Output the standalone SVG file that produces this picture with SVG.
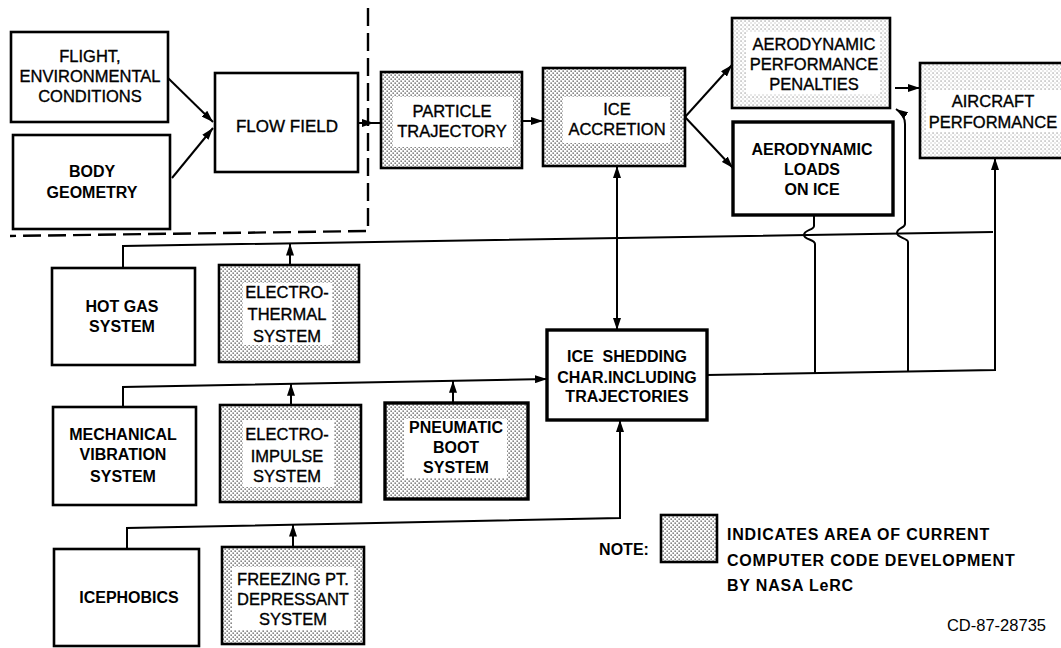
<svg xmlns="http://www.w3.org/2000/svg" width="1061" height="648" viewBox="0 0 1061 648">
<defs>
<pattern id="dots" width="4" height="4" patternUnits="userSpaceOnUse">
<rect width="4" height="4" fill="#fff"/>
<rect x="0.5" y="0.5" width="1.3" height="1.3" fill="#444"/>
<rect x="2.5" y="2.5" width="1.3" height="1.3" fill="#444"/>
</pattern>
<pattern id="dotsL" width="4" height="4" patternUnits="userSpaceOnUse">
<rect width="4" height="4" fill="#fff"/>
<rect x="0.5" y="0.5" width="1.1" height="1.1" fill="#777"/>
<rect x="2.5" y="2.5" width="1" height="1" fill="#aaa"/>
</pattern>
<marker id="arr" viewBox="0 0 12 8" refX="12" refY="4" markerWidth="12" markerHeight="8" markerUnits="userSpaceOnUse" orient="auto-start-reverse">
<path d="M0,0 L12,4 L0,8 z" fill="#000"/>
</marker>
</defs>
<style>
.box{fill:#fff;stroke:#000;stroke-width:2.6}
.thick{stroke-width:3.4}
.sh{fill:url(#dots)}
.shL{fill:url(#dotsL)}
.wb{fill:#fff;stroke:none}
text{font-family:"Liberation Sans",Arial,Helvetica,sans-serif;fill:#000;text-anchor:middle}
.m{font-size:16.5px;stroke:#000;stroke-width:0.35}
.b{font-size:16px;font-weight:bold}
.c{fill:none;stroke:#000;stroke-width:2}
.dash{fill:none;stroke:#000;stroke-width:2.4;stroke-dasharray:18 7}
</style>

<g id="connectors">
<path class="dash" d="M368 8 V231 L10 236"/>
<path class="c" d="M168 78 L213 122" marker-end="url(#arr)"/>
<path class="c" d="M172 178 L213 128" marker-end="url(#arr)"/>
<path class="c" d="M358 123 H380"/>
<path class="c" d="M358 123 H374" marker-end="url(#arr)"/>
<path class="c" d="M522 121 H543" marker-end="url(#arr)"/>
<path class="c" d="M685 117 L732 65" marker-end="url(#arr)"/>
<path class="c" d="M685 117 L733 168" marker-end="url(#arr)"/>
<path class="c" d="M895 88 H920" marker-end="url(#arr)"/>
<path class="c" d="M617 166 V330" marker-start="url(#arr)" marker-end="url(#arr)"/>
<path class="c" d="M123 268 V246 L993 232"/>
<path class="c" d="M290 265 V243.5" marker-end="url(#arr)"/>
<path class="c" d="M123 407 V387 L547 379" marker-end="url(#arr)"/>
<path class="c" d="M291 405 V383.8" marker-end="url(#arr)"/>
<path class="c" d="M453 403 V380.8" marker-end="url(#arr)"/>
<path class="c" d="M127 549 V528 L620 518 V420" marker-end="url(#arr)"/>
<path class="c" d="M293 547 V524.6" marker-end="url(#arr)"/>
<path class="c" d="M707 375 L995 370 V158" marker-end="url(#arr)"/>
<path class="c" d="M814 215 V226 C814 230 804 230 804 235 C804 240 815 239 815 244 V373"/>
<path class="c" d="M908 371.5 V242 C908 238 897 238 897 233 C897 228 905 228 905 224 V124 Q905 115 896 109" marker-end="url(#arr)"/>
</g>

<g id="flight">
<rect class="box" x="11" y="32" width="157" height="90"/>
<text class="m" x="90" y="62">FLIGHT,</text>
<text class="m" x="90" y="82">ENVIRONMENTAL</text>
<text class="m" x="90" y="102">CONDITIONS</text>
</g>
<g id="body">
<rect class="box" x="13" y="135" width="157" height="94"/>
<text class="b" x="92" y="177">BODY</text>
<text class="b" x="92" y="198">GEOMETRY</text>
</g>
<g id="flowfield">
<rect class="box" x="215" y="73" width="143" height="99"/>
<text class="m" x="287" y="132" style="font-size:17px">FLOW FIELD</text>
</g>
<g id="particle">
<rect class="box sh" x="381" y="72" width="141" height="96"/>
<rect class="wb" x="393" y="97" width="120" height="50"/>
<text class="m" x="452" y="117">PARTICLE</text>
<text class="m" x="452" y="137">TRAJECTORY</text>
</g>
<g id="accretion">
<rect class="box sh" x="543" y="68" width="142" height="98"/>
<rect class="wb" x="563" y="97" width="107" height="46"/>
<text class="m" x="617" y="115">ICE</text>
<text class="m" x="617" y="135">ACCRETION</text>
</g>
<g id="perfpen">
<rect class="box shL" x="732" y="18" width="158" height="90"/>
<rect class="wb" x="746" y="32" width="134" height="62"/>
<text class="m" x="814" y="50">AERODYNAMIC</text>
<text class="m" x="814" y="70">PERFORMANCE</text>
<text class="m" x="814" y="90">PENALTIES</text>
</g>
<g id="loads">
<rect class="box thick" x="733" y="122" width="160" height="93"/>
<text class="b" x="812" y="155">AERODYNAMIC</text>
<text class="b" x="812" y="175">LOADS</text>
<text class="b" x="812" y="195">ON ICE</text>
</g>
<g id="aircraft">
<rect class="box shL" x="920" y="63" width="150" height="95"/>
<rect class="wb" x="926" y="90" width="140" height="42"/>
<text class="m" x="993" y="107">AIRCRAFT</text>
<text class="m" x="993" y="128">PERFORMANCE</text>
</g>
<g id="hotgas">
<rect class="box" x="52" y="268" width="143" height="97"/>
<text class="b" x="122" y="312">HOT GAS</text>
<text class="b" x="122" y="332">SYSTEM</text>
</g>
<g id="electrothermal">
<rect class="box sh" x="219" y="265" width="140" height="97"/>
<rect class="wb" x="243" y="283" width="89" height="62"/>
<text class="m" x="287" y="298">ELECTRO-</text>
<text class="m" x="287" y="320">THERMAL</text>
<text class="m" x="287" y="342">SYSTEM</text>
</g>
<g id="shedding">
<rect class="box thick" x="547" y="330" width="160" height="90"/>
<text class="b" x="627" y="362" xml:space="preserve">ICE  SHEDDING</text>
<text class="b" x="627" y="383">CHAR.INCLUDING</text>
<text class="b" x="627" y="402">TRAJECTORIES</text>
</g>
<g id="mechanical">
<rect class="box" x="53" y="407" width="143" height="98"/>
<text class="b" x="123" y="440">MECHANICAL</text>
<text class="b" x="123" y="460">VIBRATION</text>
<text class="b" x="123" y="482">SYSTEM</text>
</g>
<g id="electroimpulse">
<rect class="box sh" x="220" y="405" width="141" height="97"/>
<rect class="wb" x="243" y="420" width="91" height="67"/>
<text class="m" x="287" y="440">ELECTRO-</text>
<text class="m" x="287" y="462">IMPULSE</text>
<text class="m" x="287" y="482">SYSTEM</text>
</g>
<g id="pneumatic">
<rect class="box sh thick" x="385" y="403" width="143" height="96"/>
<rect class="wb" x="404" y="419" width="103" height="59"/>
<text class="b" x="456" y="433">PNEUMATIC</text>
<text class="b" x="456" y="453">BOOT</text>
<text class="b" x="456" y="473">SYSTEM</text>
</g>
<g id="icephobics">
<rect class="box" x="54" y="549" width="145" height="97"/>
<text class="b" x="129" y="603">ICEPHOBICS</text>
</g>
<g id="freezing">
<rect class="box sh" x="222" y="547" width="142" height="97"/>
<rect class="wb" x="232" y="567" width="122" height="63"/>
<text class="m" x="293" y="585">FREEZING PT.</text>
<text class="m" x="293" y="605">DEPRESSANT</text>
<text class="m" x="293" y="625">SYSTEM</text>
</g>
<g id="legend">
<text class="b" x="624" y="555">NOTE:</text>
<rect class="box sh" x="661" y="515" width="56" height="47"/>
<text class="b" x="727" y="540" style="text-anchor:start;letter-spacing:0.8px">INDICATES AREA OF CURRENT</text>
<text class="b" x="727" y="566" style="text-anchor:start;letter-spacing:0.8px">COMPUTER CODE DEVELOPMENT</text>
<text class="b" x="727" y="591" style="text-anchor:start;letter-spacing:0.8px">BY NASA LeRC</text>
</g>
<g id="ref">
<text x="1046" y="631" style="font-size:16.5px;text-anchor:end">CD-87-28735</text>
</g>
</svg>
